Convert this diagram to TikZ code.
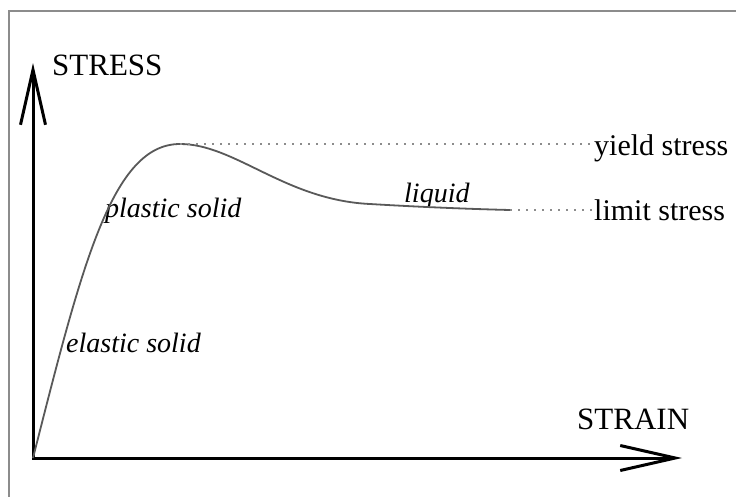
\documentclass[tikz,border=0pt]{standalone}
\usepackage{fontspec}
\setmainfont{Liberation Serif}
\usetikzlibrary{arrows.meta}
\tikzset{
  axisline/.style={line width=3pt, line join=miter, black,
    {Straight Barb[length=55pt,width=25pt]}-{Straight Barb[length=55pt,width=25pt]}},
  curveline/.style={line width=1.8pt, black!65},
  dotline/.style={line width=1.6pt, black!45, dash pattern=on 1.6pt off 6.4pt},
  bigtext/.style={inner sep=0pt, anchor=base west, font=\fontsize{30}{30}\selectfont},
  captext/.style={inner sep=0pt, anchor=base west, font=\fontsize{31}{31}\selectfont},
  itext/.style={inner sep=0pt, anchor=base west, font=\fontsize{28}{28}\selectfont\itshape},
  framestyle/.style={line width=2pt, black!45}
}
\begin{document}
\begin{tikzpicture}[x=1pt,y=-1pt]
\useasboundingbox (0,0) rectangle (736,496);
\fill[white] (0,0) rectangle (736,496);
% frame (only top and left edges visible)
\draw[framestyle] (9,500) -- (9,11) -- (740,11);
% axes
\coordinate (O) at (33,458);
\coordinate (ytip) at (33,63);
\coordinate (xtip) at (682,458);
\draw[axisline] (ytip) -- (O) -- (xtip);
% labels
\node[captext] (stress) at (52,75) {STRESS};
\node[captext] (strain) at (577,429) {STRAIN};
\node[bigtext] (yield) at (594,155) {yield stress};
\node[bigtext] (limit) at (594,220) {limit stress};
\node[itext] (plastic) at (105,217) {plastic solid};
\node[itext] (elastic) at (66,352) {elastic solid};
\node[itext] (liquid) at (404,202) {liquid};
% curve
\coordinate (peak) at (180,144);
\coordinate (mid) at (370,204);
\coordinate (lend) at (510,210);
\draw[curveline] (O) .. controls (82,265) and (112,144) .. (peak)
  .. controls (235,144) and (285,200) .. (mid)
  .. controls (420,207) and (470,209) .. (lend);
% dotted guide lines
\draw[dotline] (peak) -- (yield.west |- peak);
\draw[dotline] (lend) -- (limit.west |- lend);
\end{tikzpicture}
\end{document}
